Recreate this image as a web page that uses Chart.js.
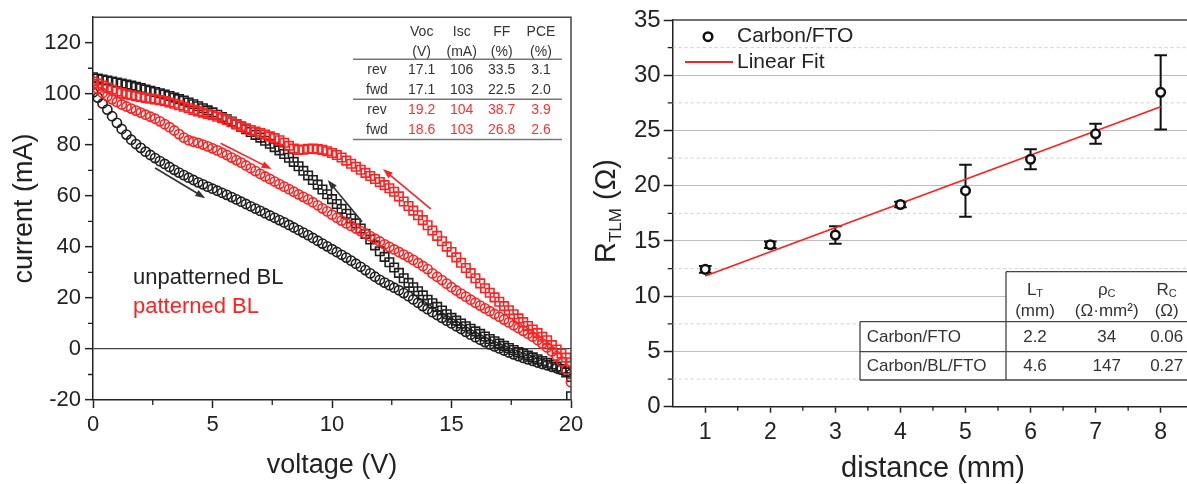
<!DOCTYPE html>
<html>
<head>
<meta charset="utf-8">
<script src="https://cdn.jsdelivr.net/npm/chart.js@4.4.0/dist/chart.umd.min.js"></script>
<style>
  html, body { margin: 0; padding: 0; background: #fff; overflow: hidden; }
  #wrap { position: relative; width: 1187px; height: 484px; overflow: hidden; }
  #left { position: absolute; left: 0; top: 0; }
  #right { position: absolute; left: 590px; top: 0; }
</style>
</head>
<body>
<div id="wrap">
  <canvas id="left" width="590" height="484"></canvas>
  <canvas id="right" width="610" height="484"></canvas>
</div>
<script>
// ---- left panel: I-V scans ----
const voltage = [0,0.2,0.4,0.6,0.8,1,1.2,1.4,1.6,1.8,2,2.2,2.4,2.6,2.8,3,3.2,3.4,3.6,3.8,4,4.2,4.4,4.6,4.8,5,5.2,5.4,5.6,5.8,6,6.2,6.4,6.6,6.8,7,7.2,7.4,7.6,7.8,8,8.2,8.4,8.6,8.8,9,9.2,9.4,9.6,9.8,10,10.2,10.4,10.6,10.8,11,11.2,11.4,11.6,11.8,12,12.2,12.4,12.6,12.8,13,13.2,13.4,13.6,13.8,14,14.2,14.4,14.6,14.8,15,15.2,15.4,15.6,15.8,16,16.2,16.4,16.6,16.8,17,17.2,17.4,17.6,17.8,18,18.2,18.4,18.6,18.8,19,19.2,19.4,19.6,19.8,20];

// unpatterned BL, forward scan (black circles)
const unpatFwd = [100.5,98.5,96.2,93.8,91.2,88.6,86.2,84,82,80.3,78.8,
  77.3,76,74.8,73.6,72.5,71.3,70.2,69.1,68.1,67.1,
  66.2,65.3,64.5,63.6,62.8,62,61.2,60.4,59.5,58.6,
  57.7,56.8,55.9,55,54.1,53.2,52.3,51.4,50.5,49.6,
  48.6,47.6,46.6,45.6,44.6,43.5,42.4,41.3,40.2,39.1,
  38,36.9,35.8,34.6,33.4,32.2,30.9,29.6,28.3,27.1,
  26,25,24,23,21.9,20.7,19.4,18.1,16.8,15.6,
  14.4,13.3,12.2,11.1,10,8.9,7.8,6.7,5.6,4.6,
  3.6,2.7,1.8,1,0.2,-0.6,-1.4,-2.1,-2.8,-3.5,
  -4.1,-4.7,-5.3,-5.9,-6.4,-7,-7.5,-8.1,-8.8,-9.7];

// unpatterned BL, reverse scan (black squares)
const unpatRev = [106.5,106,105.6,105.2,104.8,104.4,104,103.6,103.2,102.7,102.2,
  101.7,101.2,100.7,100.2,99.7,99.1,98.5,97.9,97.3,96.6,
  95.9,95.1,94.3,93.5,92.7,91.8,90.9,90,89.1,88.1,
  87.1,86.1,85,83.9,82.8,81.6,80.4,79.1,77.8,76.4,
  74.9,73.3,71.6,69.8,68,66.2,64.4,62.5,60.6,58.7,
  56.8,54.9,53,51.1,49.2,47.2,45.1,42.9,40.6,38.3,
  36.1,34,31.9,29.8,27.7,25.9,24.2,22.6,21,19.3,
  17.9,16.5,15.1,13.6,12.2,11.1,10,8.9,7.9,6.9,
  5.9,4.9,3.9,3,2.1,1.2,0.4,-0.4,-1.2,-1.9,
  -2.6,-3.3,-4,-4.7,-5.4,-6.1,-6.9,-7.9,-9.2,-11];
const unpatRevStartV = [20];
const unpatRevStartI = [-18.5];

// patterned BL, forward scan (red circles)
const patFwd = [103.5,102,100.3,99,97.8,96.8,95.8,95,94.2,93.4,92.6,
  91.8,91,90.2,89.2,88.1,86.9,85.6,84.2,82.8,81.8,
  81.2,80.7,80.1,79.4,78.6,77.8,76.9,76,75,74,
  73,71.9,70.8,69.7,68.6,67.6,66.6,65.6,64.6,63.6,
  62.6,61.6,60.6,59.6,58.6,57.5,56.3,55.1,53.9,52.6,
  51.4,50.3,49.2,48.2,47.2,46.2,45.2,44.2,43.2,42.1,
  41,40,39,38,37,36,34.9,33.7,32.5,31.3,
  29.6,28.3,27,25.6,24.2,22.9,21.7,20.5,19.3,18.1,
  17,15.9,14.8,13.7,12.6,11.5,10.4,9.3,8.2,7.1,
  6,4.8,3.5,2.1,0.6,-1,-2.8,-5,-8,-13];

// patterned BL, reverse scan (red squares)
const patRev = [104.8,104,103.2,102.4,101.6,100.9,100.3,99.8,99.4,99,98.7,
  98.4,98.1,97.8,97.5,97.1,96.6,96.1,95.5,94.9,94.3,
  93.7,93.1,92.6,92.1,91.6,91,90.4,89.7,88.9,88.1,
  87.3,86.5,85.8,85.2,84.6,84,83.3,82.6,81.8,80.8,
  79.6,78.5,78,78.1,78.4,78.5,78.3,78,77.5,76.8,
  76,75,73.8,72.6,71.4,70.2,69,67.8,66.6,65.4,
  64.2,63,61.6,59.8,57.8,56,54.2,52.4,50.5,48.5,
  46.4,44.3,42.2,40.1,38,35.9,33.8,31.7,29.7,27.7,
  25.7,23.8,22,20.2,18.5,16.8,15.2,13.6,12,10.5,
  9,7.6,6.2,4.8,3.4,1.5,-0.2,-1.8,-3.4,-5.2];

const legendLeft = ['unpatterned BL', 'patterned BL'];
const tableHead = ['Voc', 'Isc', 'FF', 'PCE'];
const tableUnits = ['(V)', '(mA)', '(%)', '(%)'];
const tableScan = ['rev', 'fwd', 'rev', 'fwd'];
const tableVoc = ['17.1', '17.1', '19.2', '18.6'];
const tableIsc = ['106', '103', '104', '103'];
const tableFF = ['33.5', '22.5', '38.7', '26.8'];
const tablePCE = ['3.1', '2.0', '3.9', '2.6'];

// scan-direction arrows, [x1, y1, x2, y2] in data units
const arrowsBlack = [[2.6, 70.9, 4.7, 59.1], [11.26, 49.8, 9.82, 66.2]];
const arrowsRed = [[5.34, 80.6, 7.47, 70.5], [14.13, 54.9, 12.13, 70.5]];

// ---- right panel: TLM ----
const distance = [1, 2, 3, 4, 5, 6, 7, 8];
const rTLM = [12.43, 14.66, 15.54, 18.3, 19.55, 22.4, 24.7, 28.45];
const rErr = [0.3, 0.3, 0.8, 0.25, 2.35, 0.9, 0.9, 3.35];
const fitX = [1, 8];
const fitY = [11.83, 27.15];
const legendRight = ['Carbon/FTO', 'Linear Fit'];
const tlmRows = ['Carbon/FTO', 'Carbon/BL/FTO'];
const tlmLT = ['2.2', '4.6'];
const tlmRho = ['34', '147'];
const tlmRc = ['0.06', '0.27'];

const FONT = "'Liberation Sans', Arial, sans-serif";
const INK = '#222';
const RED = '#ff2020';
const pts = (xs, ys) => xs.map((x, i) => ({ x: x, y: ys[i] }));

function text(ctx, s, x, y, size, color, align) {
  ctx.font = size + 'px ' + FONT;
  ctx.fillStyle = color;
  ctx.textAlign = align || 'left';
  ctx.textBaseline = 'middle';
  ctx.fillText(s, x, y);
}

function arrow(ctx, x1, y1, x2, y2, color) {
  const a = Math.atan2(y2 - y1, x2 - x1);
  const hl = 10, hw = 3.5;
  ctx.strokeStyle = color; ctx.fillStyle = color; ctx.lineWidth = 1.6;
  ctx.beginPath();
  ctx.moveTo(x1, y1);
  ctx.lineTo(x2 - hl * 0.7 * Math.cos(a), y2 - hl * 0.7 * Math.sin(a));
  ctx.stroke();
  ctx.beginPath();
  ctx.moveTo(x2, y2);
  ctx.lineTo(x2 - hl * Math.cos(a) + hw * Math.sin(a), y2 - hl * Math.sin(a) - hw * Math.cos(a));
  ctx.lineTo(x2 - hl * Math.cos(a) - hw * Math.sin(a), y2 - hl * Math.sin(a) + hw * Math.cos(a));
  ctx.closePath();
  ctx.fill();
}

function minorTicks(ctx, scale, values, len, horizontal) {
  ctx.save();
  ctx.strokeStyle = INK; ctx.lineWidth = 1.3;
  ctx.beginPath();
  values.forEach(v => {
    const p = scale.getPixelForValue(v);
    if (horizontal) { ctx.moveTo(p, scale.top); ctx.lineTo(p, scale.top + len); }
    else { ctx.moveTo(scale.right, p); ctx.lineTo(scale.right - len, p); }
  });
  ctx.stroke();
  ctx.restore();
}

const leftDeco = {
  id: 'leftDeco',
  afterDraw(chart) {
    const ctx = chart.ctx, a = chart.chartArea;
    const xs = chart.scales.x, ys = chart.scales.y;
    ctx.save();
    // frame top + right
    ctx.strokeStyle = '#444'; ctx.lineWidth = 1.5;
    ctx.beginPath();
    ctx.moveTo(a.left, a.top); ctx.lineTo(a.right, a.top); ctx.lineTo(a.right, a.bottom);
    ctx.stroke();
    const mx = [], my = [];
    for (let v = 2.5; v < 20; v += 5) mx.push(v);
    for (let v = -10; v <= 110; v += 20) my.push(v);
    minorTicks(ctx, xs, mx, 5, true);
    minorTicks(ctx, ys, my, 5, false);
    // arrows
    arrowsBlack.forEach(r => arrow(ctx, xs.getPixelForValue(r[0]), ys.getPixelForValue(r[1]),
      xs.getPixelForValue(r[2]), ys.getPixelForValue(r[3]), '#333'));
    arrowsRed.forEach(r => arrow(ctx, xs.getPixelForValue(r[0]), ys.getPixelForValue(r[1]),
      xs.getPixelForValue(r[2]), ys.getPixelForValue(r[3]), RED));
    // legend text
    text(ctx, legendLeft[0], 133, 278, 22, INK);
    text(ctx, legendLeft[1], 133, 307, 22, RED);
    // table
    const cols = [421.7, 461.7, 501.7, 541];
    tableHead.forEach((s, i) => text(ctx, s, cols[i], 31.7, 14, '#333', 'center'));
    tableUnits.forEach((s, i) => text(ctx, s, cols[i], 51.7, 14, '#333', 'center'));
    const rowsY = [70, 90, 110, 130];
    tableScan.forEach((s, r) => {
      const c = r < 2 ? '#333' : '#ff3030';
      text(ctx, s, 377, rowsY[r], 14, '#333', 'center');
      text(ctx, tableVoc[r], cols[0], rowsY[r], 14, c, 'center');
      text(ctx, tableIsc[r], cols[1], rowsY[r], 14, c, 'center');
      text(ctx, tableFF[r], cols[2], rowsY[r], 14, c, 'center');
      text(ctx, tablePCE[r], cols[3], rowsY[r], 14, c, 'center');
    });
    ctx.strokeStyle = '#777'; ctx.lineWidth = 1.5;
    [59.3, 99.3, 139.5].forEach(y => {
      ctx.beginPath(); ctx.moveTo(353, y); ctx.lineTo(562, y); ctx.stroke();
    });
    ctx.restore();
  }
};

new Chart(document.getElementById('left'), {
  type: 'scatter',
  data: {
    datasets: [
      { label: 'patterned rev', data: pts(voltage, patRev), pointStyle: 'rect', pointRadius: 6,
        pointBorderColor: RED, pointBackgroundColor: 'rgba(0,0,0,0)', pointBorderWidth: 1.6 },
      { label: 'patterned fwd', data: pts(voltage, patFwd), pointStyle: 'circle', pointRadius: 4.6,
        pointBorderColor: RED, pointBackgroundColor: 'rgba(0,0,0,0)', pointBorderWidth: 1.6 },
      { label: 'unpatterned rev', data: pts(unpatRevStartV.concat(voltage), unpatRevStartI.concat(unpatRev)),
        pointStyle: 'rect', pointRadius: 6,
        pointBorderColor: '#1e1e1e', pointBackgroundColor: 'rgba(0,0,0,0)', pointBorderWidth: 1.6 },
      { label: 'unpatterned fwd', data: pts(voltage, unpatFwd), pointStyle: 'circle', pointRadius: 4.6,
        pointBorderColor: '#1e1e1e', pointBackgroundColor: 'rgba(0,0,0,0)', pointBorderWidth: 1.6 }
    ]
  },
  options: {
    responsive: false, animation: false, events: [], devicePixelRatio: 1,
    layout: { padding: { top: 14, right: 19, left: 0, bottom: 0 } },
    plugins: { legend: { display: false }, tooltip: { enabled: false } },
    scales: {
      x: {
        type: 'linear', min: 0, max: 20,
        afterFit: s => { s.height = 84; },
        ticks: { stepSize: 5, includeBounds: false, font: { family: FONT, size: 22 }, color: INK, padding: 4 },
        grid: { drawOnChartArea: false, tickLength: 8, tickColor: INK, tickWidth: 1.5 },
        border: { color: INK, width: 1.5 },
        title: { display: true, text: 'voltage (V)', font: { family: FONT, size: 27 }, color: INK,
          padding: { top: 0, bottom: 2 } }
      },
      y: {
        type: 'linear', min: -20, max: 130,
        afterFit: s => { s.width = 93; },
        ticks: { stepSize: 20, includeBounds: false, font: { family: FONT, size: 22 }, color: INK, padding: 4 },
        grid: { color: c => (c.tick && c.tick.value === 0) ? '#444' : 'rgba(0,0,0,0)', lineWidth: 1.3,
          tickLength: 8, tickColor: INK, tickWidth: 1.5 },
        border: { color: INK, width: 1.5 },
        title: { display: true, text: 'current (mA)', font: { family: FONT, size: 27 }, color: INK,
          padding: { top: 8, bottom: 0 } }
      }
    }
  },
  plugins: [leftDeco]
});

const rightDeco = {
  id: 'rightDeco',
  beforeDatasetsDraw(chart) {
    const ctx = chart.ctx, a = chart.chartArea;
    const xs = chart.scales.x, ys = chart.scales.y;
    ctx.save();
    // dashed minor grid
    ctx.strokeStyle = '#cfcfcf'; ctx.lineWidth = 1; ctx.setLineDash([3, 3]);
    for (let v = 2.5; v < 35; v += 5) {
      const p = ys.getPixelForValue(v);
      ctx.beginPath(); ctx.moveTo(a.left, p); ctx.lineTo(a.right, p); ctx.stroke();
    }
    ctx.setLineDash([]);
    // error bars
    ctx.strokeStyle = '#111'; ctx.lineWidth = 2;
    distance.forEach((d, i) => {
      const x = xs.getPixelForValue(d);
      const y1 = ys.getPixelForValue(rTLM[i] - rErr[i]);
      const y2 = ys.getPixelForValue(rTLM[i] + rErr[i]);
      ctx.beginPath();
      ctx.moveTo(x, y1); ctx.lineTo(x, y2);
      ctx.moveTo(x - 6.3, y1); ctx.lineTo(x + 6.3, y1);
      ctx.moveTo(x - 6.3, y2); ctx.lineTo(x + 6.3, y2);
      ctx.stroke();
    });
    ctx.restore();
  },
  afterDraw(chart) {
    const ctx = chart.ctx, a = chart.chartArea;
    const xs = chart.scales.x, ys = chart.scales.y;
    ctx.save();
    ctx.strokeStyle = '#444'; ctx.lineWidth = 1.5;
    ctx.beginPath(); ctx.moveTo(a.left, a.top); ctx.lineTo(a.right, a.top); ctx.lineTo(a.right, a.bottom); ctx.stroke();
    const mx = [], my = [];
    for (let v = 1.5; v < 8.5; v += 1) mx.push(v);
    for (let v = 2.5; v < 35; v += 5) my.push(v);
    minorTicks(ctx, xs, mx, 4, true);
    minorTicks(ctx, ys, my, 5, false);
    // legend
    ctx.strokeStyle = '#111'; ctx.lineWidth = 2.5; ctx.fillStyle = '#fff';
    ctx.beginPath(); ctx.arc(118, 36.7, 4.3, 0, Math.PI * 2); ctx.fill(); ctx.stroke();
    text(ctx, legendRight[0], 147, 36.7, 21, INK);
    ctx.strokeStyle = RED; ctx.lineWidth = 1.8;
    ctx.beginPath(); ctx.moveTo(95, 62); ctx.lineTo(143, 62); ctx.stroke();
    text(ctx, legendRight[1], 147, 62, 21, INK);
    // table
    ctx.fillStyle = '#fff';
    ctx.fillRect(416, 271.7, 210, 50);
    ctx.fillRect(270, 321.7, 356, 58.3);
    ctx.strokeStyle = '#444'; ctx.lineWidth = 1.3;
    ctx.beginPath();
    ctx.moveTo(416, 271.7); ctx.lineTo(626, 271.7);
    ctx.moveTo(416, 271.7); ctx.lineTo(416, 380);
    ctx.moveTo(270, 321.7); ctx.lineTo(626, 321.7);
    ctx.moveTo(270, 351.7); ctx.lineTo(626, 351.7);
    ctx.moveTo(270, 380); ctx.lineTo(626, 380);
    ctx.moveTo(270, 321.7); ctx.lineTo(270, 380);
    ctx.stroke();
    const cols = [445, 516.7, 576.7];
    const heads = [['L', 'T'], ['\u03c1', 'C'], ['R', 'C']];
    heads.forEach((h, i) => {
      ctx.font = '17px ' + FONT;
      const w1 = ctx.measureText(h[0]).width;
      ctx.font = '11px ' + FONT;
      const w2 = ctx.measureText(h[1]).width;
      const x0 = cols[i] - (w1 + w2) / 2;
      text(ctx, h[0], x0, 290, 17, '#333');
      text(ctx, h[1], x0 + w1, 294, 11, '#333');
    });
    ['(mm)', '(\u03a9\u00b7mm\u00b2)', '(\u03a9)'].forEach((s, i) => text(ctx, s, cols[i], 311.7, 17, '#333', 'center'));
    const rowY = [337, 366];
    tlmRows.forEach((s, r) => {
      text(ctx, s, 276.7, rowY[r], 17, '#333');
      text(ctx, tlmLT[r], cols[0], rowY[r], 17, '#333', 'center');
      text(ctx, tlmRho[r], cols[1], rowY[r], 17, '#333', 'center');
      text(ctx, tlmRc[r], cols[2], rowY[r], 17, '#333', 'center');
    });
    // y title R_TLM (Ω)
    ctx.translate(25, 263);
    ctx.rotate(-Math.PI / 2);
    ctx.fillStyle = INK; ctx.textAlign = 'left'; ctx.textBaseline = 'alphabetic';
    ctx.font = '29px ' + FONT;
    ctx.fillText('R', 0, 0);
    const wR = ctx.measureText('R').width;
    ctx.font = '17px ' + FONT;
    ctx.fillText('TLM', wR, 6);
    const wS = ctx.measureText('TLM').width;
    ctx.font = '29px ' + FONT;
    ctx.fillText(' (\u03a9)', wR + wS, 0);
    ctx.restore();
  }
};

new Chart(document.getElementById('right'), {
  type: 'scatter',
  data: {
    datasets: [
      { label: legendRight[0], data: pts(distance, rTLM), pointStyle: 'circle', pointRadius: 4.3,
        pointBorderColor: '#111', pointBackgroundColor: '#fff', pointBorderWidth: 2.5 },
      { label: legendRight[1], type: 'line', data: pts(fitX, fitY), borderColor: RED, borderWidth: 1.8,
        pointRadius: 0, fill: false }
    ]
  },
  options: {
    responsive: false, animation: false, events: [], devicePixelRatio: 1,
    layout: { padding: { top: 20, right: 3.7, left: 0, bottom: 0 } },
    plugins: { legend: { display: false }, tooltip: { enabled: false } },
    scales: {
      x: {
        type: 'linear', min: 0.5, max: 8.5,
        afterFit: s => { s.height = 77.3; },
        afterBuildTicks: s => { s.ticks = distance.map(v => ({ value: v })); },
        ticks: { font: { family: FONT, size: 23 }, color: INK, padding: 6 },
        grid: { drawOnChartArea: false, tickLength: 6, tickColor: INK, tickWidth: 1.5 },
        border: { color: INK, width: 1.5 },
        title: { display: true, text: 'distance (mm)', font: { family: FONT, size: 29 }, color: INK,
          padding: { top: 0, bottom: -2 } }
      },
      y: {
        type: 'linear', min: 0, max: 35,
        afterFit: s => { s.width = 82.7; },
        ticks: { stepSize: 5, includeBounds: false, font: { family: FONT, size: 24 }, color: INK, padding: 3 },
        grid: { color: c => (c.tick && c.tick.value > 0 && c.tick.value < 35) ? '#bdbdbd' : 'rgba(0,0,0,0)',
          lineWidth: 1, tickLength: 9, tickColor: INK, tickWidth: 1.5 },
        border: { color: INK, width: 1.5 }
      }
    }
  },
  plugins: [rightDeco]
});
</script>
</body>
</html>
